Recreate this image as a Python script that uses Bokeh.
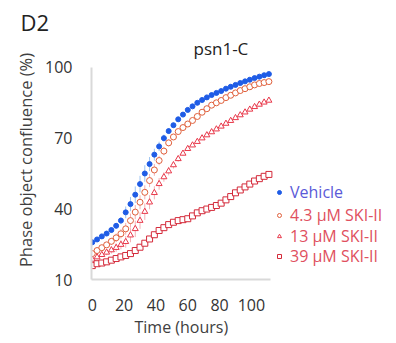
from bokeh.plotting import figure
from bokeh.models import Range1d, Legend, LegendItem, Label, Title
from bokeh.embed import file_html
from bokeh.resources import INLINE

# ---- data ----
time_h = [0, 3, 6, 9, 12, 15, 18, 21, 24, 27, 30, 33, 36, 39, 42, 45, 48, 51, 54,
          57, 60, 63, 66, 69, 72, 75, 78, 81, 84, 87, 90, 93, 96, 99, 102, 105, 108, 111]
vehicle = [25.8, 27.0, 28.3, 29.5, 31.0, 32.8, 35.0, 38.5, 42.0, 46.0, 50.5, 55.0, 59.0,
           63.0, 66.5, 70.0, 73.0, 75.5, 78.0, 80.0, 82.0, 83.5, 85.0, 86.2, 87.3, 88.3,
           89.2, 90.0, 91.0, 91.8, 92.6, 93.4, 94.1, 94.8, 95.5, 96.1, 96.7, 97.2]
ski_4_3 = [21.0, 22.3, 23.5, 24.7, 26.2, 27.7, 29.4, 31.5, 35.0, 38.6, 42.8, 47.0, 52.0,
           56.5, 60.5, 64.5, 68.0, 70.5, 72.8, 74.5, 76.0, 77.5, 79.2, 81.0, 82.5, 84.0,
           85.0, 86.0, 87.2, 88.2, 89.2, 90.2, 91.0, 91.8, 92.6, 93.2, 93.6, 94.0]
ski_13 = [18.5, 19.5, 20.5, 21.5, 22.5, 23.5, 24.8, 26.0, 28.8, 31.5, 35.0, 38.8, 42.8,
          46.8, 50.6, 53.5, 56.0, 58.6, 61.2, 63.5, 65.5, 67.0, 68.5, 70.0, 71.3, 72.6,
          73.8, 75.0, 76.2, 77.4, 78.6, 79.8, 81.0, 82.2, 83.3, 84.3, 85.2, 86.0]
ski_39 = [15.9, 16.7, 17.0, 17.5, 18.2, 18.9, 19.6, 20.2, 21.0, 22.3, 23.7, 25.4, 27.2,
          29.0, 30.8, 32.0, 33.3, 34.3, 35.0, 35.4, 35.8, 37.0, 38.3, 39.2, 39.9, 40.6,
          41.4, 42.4, 43.8, 45.2, 46.8, 48.0, 49.3, 50.5, 51.8, 52.8, 53.8, 54.6]
err_vehicle = [0.8, 0.8, 0.8, 0.9, 1, 1.2, 1.5, 2.5, 3, 3.5, 3.5, 3.5, 3, 2.5, 2, 1.5, 1.2,
               1, 1, 0.8, 0.8, 0.8, 0.7, 0.7, 0.7, 0.6, 0.6, 0.6, 0.6, 0.5, 0.5, 0.5, 0.5,
               0.5, 0.5, 0.5, 0.5, 0.5]
err_4_3 = [1, 1, 1, 1.2, 1.5, 1.8, 2, 2.5, 3, 3, 3, 3, 2.8, 2.5, 2, 1.8, 1.5, 1.2, 1, 1,
           0.8, 0.8, 0.8, 0.8, 0.8, 0.8, 0.8, 0.8, 0.8, 0.8, 0.8, 0.8, 0.8, 0.8, 0.8, 0.8, 0.8, 0.8]
err_13 = [1, 1, 1, 1.2, 1.5, 1.8, 2, 2.5, 3, 3.5, 3.5, 3.5, 3, 2.8, 2.5, 2, 1.8, 1.5, 1.2, 1,
          0.8, 0.8, 0.8, 0.8, 0.8, 0.8, 0.8, 0.8, 0.8, 0.8, 0.8, 0.8, 0.8, 0.8, 0.8, 0.8, 0.8, 0.8]
err_39 = [0.8, 0.8, 0.8, 0.8, 0.8, 0.8, 0.9, 1, 1, 1.2, 1.2, 1.2, 1.2, 1.2, 1.2, 1, 1, 1, 1, 1,
          1, 1, 1, 1, 1, 1, 1, 1, 1, 1, 1, 1, 1, 1, 1, 1, 1, 1]

series_names = ["Vehicle", "4.3 μM SKI-II", "13 μM SKI-II", "39 μM SKI-II"]
y_ticks = [10, 40, 70, 100]
x_ticks = [0, 20, 40, 60, 80, 100]
x_axis_span = (-0.5, 112)
y_axis_span = (10, 100)

FONT = "Open Sans"

# frame extends to the right/top edge so the legend and sub-title can sit inside it;
# the axis lines are limited to the data span with `bounds`.
p = figure(width=396, height=343, output_backend="svg", toolbar_location=None,
           x_range=Range1d(-0.5, 191.2), y_range=Range1d(10, 111.45),
           min_border_left=91, min_border_right=0, min_border_top=40,
           min_border_bottom=64)
p.outline_line_color = None
p.grid.visible = False
p.background_fill_color = "white"
p.border_fill_color = "white"

for ax in (p.xaxis[0], p.yaxis[0]):
    ax.axis_line_color = "#d9d9d9"
    ax.axis_line_width = 2
    ax.major_tick_line_color = None
    ax.minor_tick_line_color = None
    ax.major_tick_in = 0
    ax.major_tick_out = 0
    ax.major_label_text_font = FONT
    ax.major_label_text_font_size = "16px"
    ax.major_label_text_color = "#333333"
    ax.axis_label_text_font = FONT
    ax.axis_label_text_font_style = "normal"
    ax.axis_label_text_color = "#404040"

p.xaxis.bounds = x_axis_span
p.yaxis.bounds = y_axis_span
p.xaxis.ticker = x_ticks
p.yaxis.ticker = y_ticks
p.xaxis.major_label_standoff = 19
p.yaxis.major_label_standoff = 19
p.yaxis.axis_label = "Phase object confluence (%)"
p.yaxis.axis_label_text_font_size = "16.5px"
p.yaxis.axis_label_standoff = 5

specs = [
    (vehicle, err_vehicle, "circle", "#1f5ce6", True, "#9cc4f2", "#5a5ad8", 5),
    (ski_4_3, err_4_3, "circle", "#e0603c", False, "#f4b0b4", "#e0505e", 6),
    (ski_13, err_13, "triangle", "#e8384a", False, "#f4b0b4", "#e0505e", 6),
    (ski_39, err_39, "square", "#d42a3a", False, "#f4b0b4", "#e0505e", 6),
]

renderers = []
for vals, errs, marker, col, filled, ecol, tcol, size in specs:
    lo = [v - e for v, e in zip(vals, errs)]
    hi = [v + e for v, e in zip(vals, errs)]
    p.segment(x0=time_h, y0=lo, x1=time_h, y1=hi, line_color=ecol, line_width=1)
    r = p.scatter(x=time_h, y=vals, marker=marker, size=size,
                  line_color=col, line_width=1,
                  fill_color=col if filled else "white",
                  fill_alpha=1.0)
    renderers.append(r)

# one legend per entry so that each label keeps its own colour
legend_y = [76, 53, 32, 12]
for name, r, spec, ly in zip(series_names, renderers, specs, legend_y):
    lg = Legend(items=[LegendItem(label=name, renderers=[r])],
                location=(183, ly), orientation="vertical",
                label_text_font=FONT, label_text_font_size="16px",
                label_text_color=spec[6], glyph_width=10, glyph_height=10,
                label_standoff=6, padding=0, margin=0, spacing=0,
                border_line_color=None, background_fill_alpha=0)
    p.add_layout(lg, "center")

p.add_layout(Label(x=102, y=231, x_units="screen", y_units="screen", text="psn1-C",
                   text_font=FONT, text_font_size="17px", text_color="#222222",
                   text_baseline="middle"))

p.add_layout(Title(text="D2", align="left", offset=-71, text_font=FONT,
                   text_font_size="22px", text_font_style="normal",
                   text_color="#222222", standoff=8), "above")
p.add_layout(Title(text="Time (hours)", align="left", offset=43, text_font=FONT,
                   text_font_size="16px", text_font_style="normal",
                   text_color="#404040", standoff=0), "below")

open("out.html", "w").write(file_html(p, INLINE))
